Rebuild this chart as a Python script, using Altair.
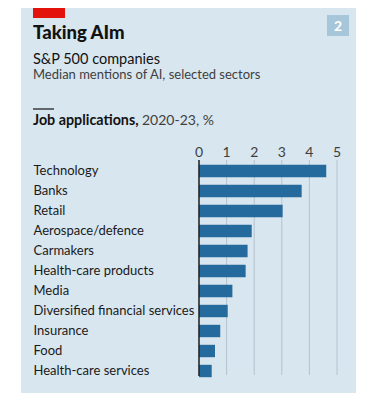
import altair as alt
import pandas as pd

sectors = ["Technology", "Banks", "Retail", "Aerospace/defence", "Carmakers",
           "Health-care products", "Media", "Diversified financial services",
           "Insurance", "Food", "Health-care services"]
values = [4.61, 3.72, 3.03, 1.91, 1.76, 1.69, 1.21, 1.04, 0.77, 0.58, 0.46]
ticks = [0, 1, 2, 3, 4, 5]

title = "Taking AIm"
subtitle1 = "S&P 500 companies"
subtitle2 = "Median mentions of AI, selected sectors"
axis_title_bold = "Job applications,"
axis_title_rest = "2020-23, %"
badge = "2"

FONT = "Lato"
BG = "#d8e6f0"
BAR = "#256a9c"

df = pd.DataFrame({"sector": sectors, "value": values})
tick_df = pd.DataFrame({"t": ticks})

W, H = 138, 220
xscale = alt.Scale(domain=[0, 5], nice=False)

panel = alt.Chart(pd.DataFrame({"a": [0]})).mark_rect(color=BG).encode(
    x=alt.value(-178), x2=alt.value(157), y=alt.value(-160), y2=alt.value(250))

red = alt.Chart(pd.DataFrame({"a": [0]})).mark_rect(color="#e3120b").encode(
    x=alt.value(-166), x2=alt.value(-134), y=alt.value(-160), y2=alt.value(-143))

badge_box = alt.Chart(pd.DataFrame({"a": [0]})).mark_rect(color="#a7c6da").encode(
    x=alt.value(128), x2=alt.value(150), y=alt.value(-146), y2=alt.value(-125))

def txt(s, x, y, size, weight="normal", color="#121212", align="left"):
    return alt.Chart(pd.DataFrame({"s": [s]})).mark_text(
        font=FONT, fontSize=size, fontWeight=weight, color=color,
        align=align, baseline="alphabetic").encode(
        text="s:N", x=alt.value(x), y=alt.value(y))

t_title = txt(title, -166, -122, 18.5, 900)
t_sub1 = txt(subtitle1, -166, -97, 14.5)
t_sub2 = txt(subtitle2, -166, -82, 13, color="#3f3f3f")
t_ax1 = txt(axis_title_bold, -166, -36, 14.3, "bold")
t_ax2 = txt(axis_title_rest, -57, -36, 14, color="#3f3f3f")
t_badge = txt(badge, 139, -130, 14, "bold", "#ffffff", "center")

short_line = alt.Chart(pd.DataFrame({"a": [0]})).mark_rule(color="#121212", strokeWidth=1.2).encode(
    x=alt.value(-166), x2=alt.value(-145), y=alt.value(-52))

grid = alt.Chart(tick_df).mark_rule(color="#b4c3ce", strokeWidth=1).encode(
    x=alt.X("t:Q", scale=xscale, axis=None), y=alt.value(-1), y2=alt.value(214))

tick_labels = alt.Chart(tick_df).mark_text(
    font=FONT, fontSize=14, color="#3f3f3f", baseline="alphabetic", align="center").encode(
    x=alt.X("t:Q", scale=xscale, axis=None), y=alt.value(-4), text="t:Q")

bars = alt.Chart(df).mark_bar(color=BAR).encode(
    x=alt.X("value:Q", scale=xscale, axis=None),
    y=alt.Y("sector:N", sort=sectors, title=None,
            scale=alt.Scale(paddingInner=0.38, paddingOuter=0.19),
            axis=alt.Axis(labelAlign="left", labelPadding=166, ticks=False, tickSize=0,
                          domain=False, labelFont=FONT, labelFontSize=13,
                          labelColor="#1a1a1a", labelBaseline="middle", zindex=2)),
)

zero = alt.Chart(pd.DataFrame({"a": [0]})).mark_rule(color="#222222", strokeWidth=1.5).encode(
    x=alt.value(0), y=alt.value(-1), y2=alt.value(215))

chart = alt.layer(panel, red, badge_box, t_title, t_sub1, t_sub2, short_line, t_ax1, t_ax2,
                  t_badge, grid, tick_labels, bars, zero).properties(
    width=W, height=H,
    autosize=alt.AutoSizeParams(type="none"),
    padding={"left": 191, "top": 153, "right": 33, "bottom": 12},
    background="#ffffff",
).configure_view(stroke=None)

chart.save("out.html", embed_options={"renderer": "svg", "actions": False})
